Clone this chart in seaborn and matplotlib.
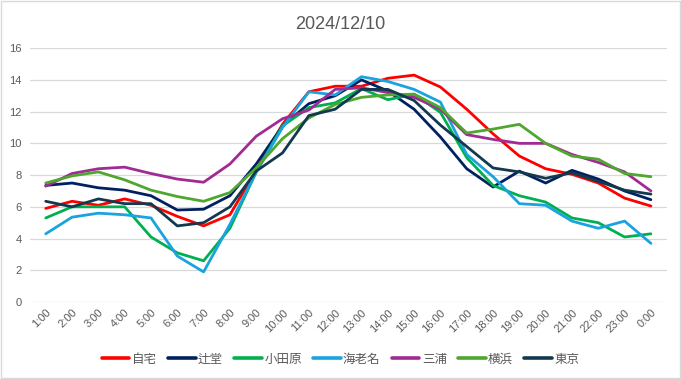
import pandas as pd
import matplotlib.pyplot as plt
import seaborn as sns
from matplotlib.patches import Rectangle

# --- data ---
hours = ['1:00', '2:00', '3:00', '4:00', '5:00', '6:00', '7:00', '8:00',
         '9:00', '10:00', '11:00', '12:00', '13:00', '14:00', '15:00', '16:00',
         '17:00', '18:00', '19:00', '20:00', '21:00', '22:00', '23:00', '0:00']

jitaku = [5.9, 6.35, 6.1, 6.5, 6.1, 5.4, 4.8, 5.5, 8.3, 11.2, 13.25, 13.6,
          13.6, 14.1, 14.3, 13.55, 12.15, 10.6, 9.2, 8.4, 8.05, 7.5, 6.55, 6.05]
tsujido = [7.35, 7.5, 7.2, 7.05, 6.7, 5.8, 5.85, 6.7, 8.7, 11.1, 12.5, 13.0,
           14.0, 13.3, 12.15, 10.4, 8.4, 7.25, 8.25, 7.5, 8.3, 7.75, 7.0, 6.45]
odawara = [5.3, 6.0, 6.0, 6.0, 4.1, 3.1, 2.6, 4.65, 8.2, 11.1, 12.25, 12.55,
           13.45, 12.75, 13.1, 11.95, 9.1, 7.35, 6.7, 6.3, 5.3, 5.0, 4.1, 4.3]
ebina = [4.3, 5.35, 5.6, 5.5, 5.3, 2.9, 1.9, 4.9, 8.2, 11.0, 13.25, 13.05,
         14.2, 13.9, 13.4, 12.6, 9.3, 7.9, 6.2, 6.1, 5.1, 4.65, 5.1, 3.7]
miura = [7.3, 8.1, 8.4, 8.5, 8.1, 7.75, 7.55, 8.7, 10.45, 11.55, 12.1, 13.4,
         13.5, 13.2, 12.9, 12.15, 10.55, 10.25, 10.0, 10.0, 9.3, 8.8, 8.2, 7.0]
yokohama = [7.5, 7.95, 8.2, 7.7, 7.05, 6.65, 6.35, 6.9, 8.45, 10.3, 11.6, 12.45,
            12.9, 13.05, 13.1, 12.25, 10.65, 10.9, 11.2, 10.0, 9.2, 9.0, 8.1, 7.9]
tokyo = [6.35, 6.0, 6.5, 6.2, 6.2, 4.8, 5.0, 6.0, 8.25, 9.4, 11.75, 12.15,
         13.4, 13.4, 12.7, 11.15, 9.8, 8.45, 8.2, 7.8, 8.15, 7.6, 7.05, 6.8]

places = ['自宅', '辻堂', '小田原', '海老名', '三浦', '横浜', '東京']
colors = ['#FF0000', '#002060', '#00B050', '#1AA3DE', '#A02B93', '#4EA72E', '#12394F']

series = [jitaku, tsujido, odawara, ebina, miura, yokohama, tokyo]
rows = []
for name, vals in zip(places, series):
    for i, v in enumerate(vals):
        rows.append({'hour': i, 'place': name, 'temp': v})
df = pd.DataFrame(rows)

# --- plot ---
sns.set_style('white')
plt.rcParams['font.family'] = ['Noto Sans CJK JP', 'DejaVu Sans']

fig = plt.figure(figsize=(6.81, 3.79), dpi=100)
ax = fig.add_axes([0.044, 0.203, 0.935, 0.67])

sns.lineplot(data=df, x='hour', y='temp', hue='place', hue_order=places,
             palette=colors, linewidth=2.0, ax=ax)

ax.set_ylim(0, 16)
ax.set_yticks(range(0, 17, 2))
ax.set_xlim(-0.6, 23.6)
ax.set_xticks(range(len(hours)))
ax.set_xticklabels(hours, rotation=45, ha='right', rotation_mode='anchor',
                   fontsize=8, color='#595959', family=['Liberation Sans'])
for lbl in ax.get_yticklabels():
    lbl.set_fontsize(8)
    lbl.set_color('#595959')
    lbl.set_family(['Liberation Sans'])
ax.tick_params(axis='both', length=0, pad=6)
ax.tick_params(axis='x', pad=4)
ax.yaxis.grid(True, color='#D9D9D9', linewidth=0.9)
ax.set_axisbelow(True)
for s in ax.spines.values():
    s.set_visible(False)
ax.set_xlabel('')
ax.set_ylabel('')

fig.suptitle('2024/12/10', y=0.958, fontsize=13, color='#595959',
             family=['Liberation Sans'])

handles, labels = ax.get_legend_handles_labels()
ax.legend_.remove()
for h in handles:
    h.set_linewidth(2.6)
fig.legend(handles, labels, loc='lower center', bbox_to_anchor=(0.5, 0.005),
           ncol=7, frameon=False, fontsize=9, handlelength=2.2,
           handletextpad=0.2, columnspacing=0.9, labelcolor='#595959')

# light frame round the chart
fig.patches.append(Rectangle((0.002, 0.003), 0.996, 0.994, transform=fig.transFigure,
                             fill=False, edgecolor='#D9D9D9', linewidth=1))

plt.savefig('out.png', dpi=100)
